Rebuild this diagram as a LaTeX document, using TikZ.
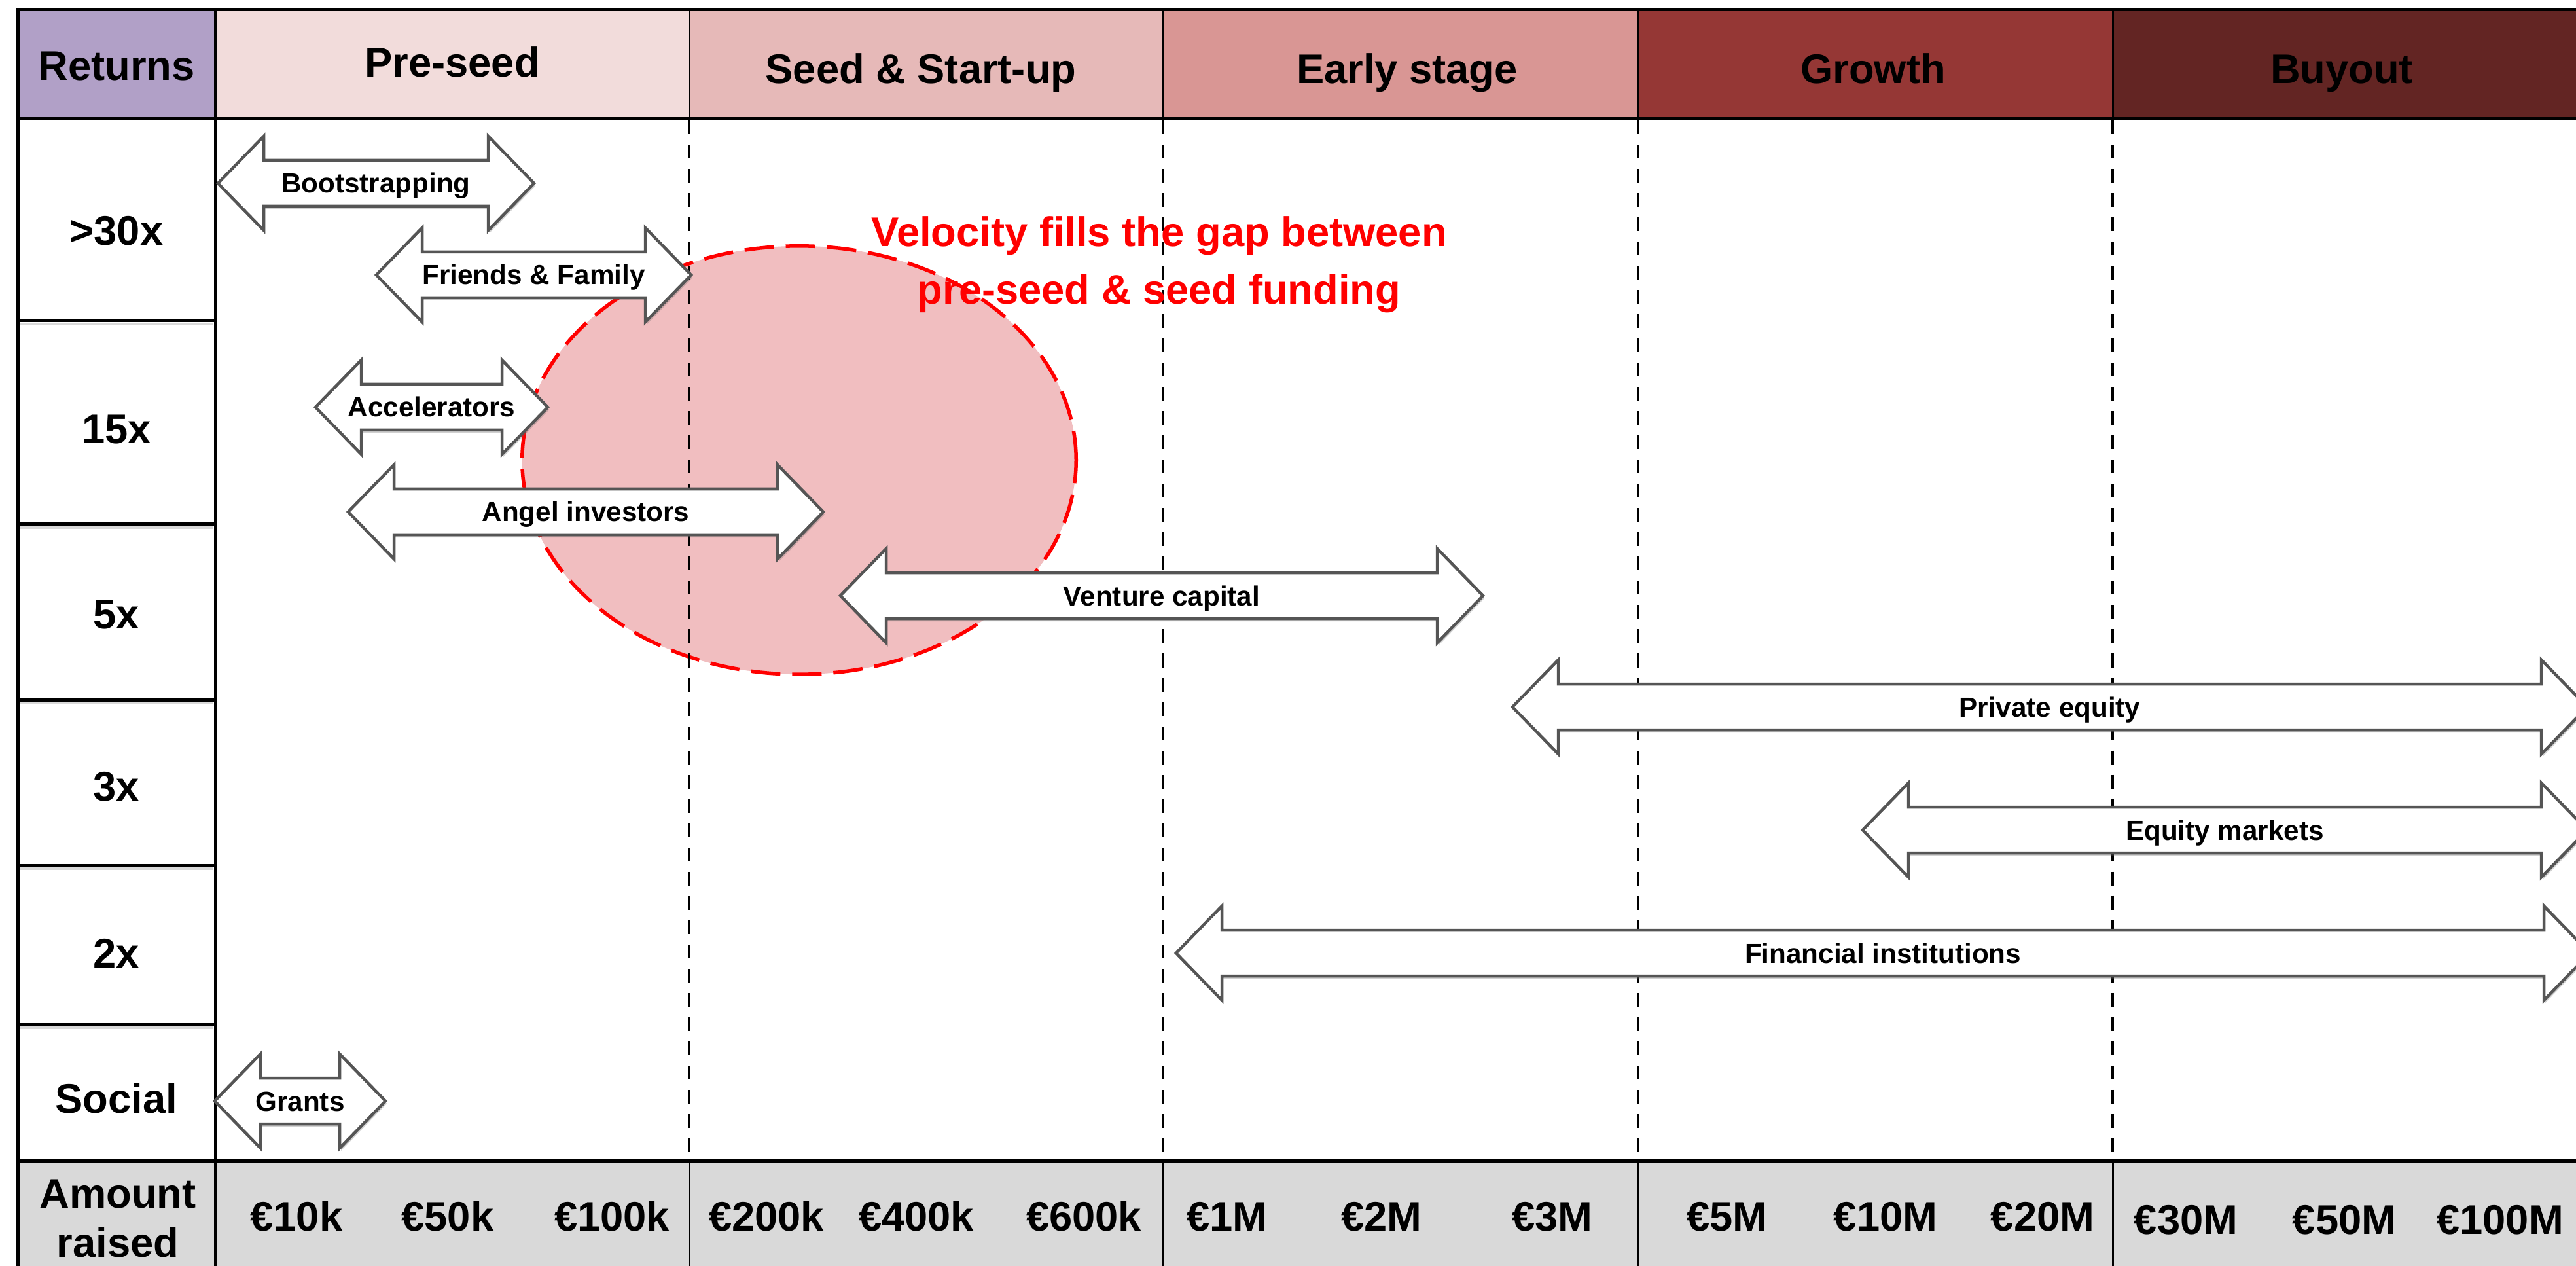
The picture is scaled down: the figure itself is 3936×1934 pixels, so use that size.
\documentclass[tikz,border=0pt]{standalone}
\usepackage{fontspec}
\setmainfont{Liberation Sans}
\usetikzlibrary{shadows,shapes.geometric}
\definecolor{retc}{HTML}{B1A0C7}
\definecolor{prec}{HTML}{F2DCDB}
\definecolor{seedc}{HTML}{E6B9B8}
\definecolor{earlyc}{HTML}{D99694}
\definecolor{growc}{HTML}{953735}
\definecolor{buyc}{HTML}{632523}
\definecolor{amtc}{HTML}{D9D9D9}
\definecolor{gapfill}{HTML}{F1BEC0}
\definecolor{arrline}{HTML}{555555}
\newcommand\bigfont{\fontsize{18}{21.6}\selectfont\bfseries}
\newcommand\smallfont{\fontsize{12}{14.4}\selectfont\bfseries}
\tikzset{
  thickline/.style={line width=0.05cm, black},
  thinline/.style={line width=0.03cm, black},
  divline/.style={line width=0.04cm, black, dash pattern=on 0.21cm off 0.16cm},
  arrowbox/.style={fill=white, draw=arrline, line width=0.045cm, line join=miter,
    drop shadow={shadow xshift=0.02cm, shadow yshift=-0.04cm, opacity=0.3, fill=black!60}},
  arrlabel/.style={anchor=base, inner sep=0pt, font=\smallfont},
  biglabel/.style={anchor=base, inner sep=0pt, font=\bigfont},
}
\newcommand\dblarr[5]{%
  \path[arrowbox] (#2,#4) -- ({#2+70},{#4-72}) -- ({#2+70},{#4-35}) -- ({#3-70},{#4-35})
    -- ({#3-70},{#4-72}) -- (#3,#4) -- ({#3-70},{#4+72}) -- ({#3-70},{#4+35})
    -- ({#2+70},{#4+35}) -- ({#2+70},{#4+72}) -- cycle;
  \node[arrlabel] (#1) at ({(#2+#3)/2},{#4+15}) {#5};}
\begin{document}
\begin{tikzpicture}[x=0.01cm,y=-0.01cm]
\clip (0,0) rectangle (3936,1934);
\fill[white] (0,0) rectangle (3936,1934);
% header cells
\fill[retc] (27,15) rectangle (329,182);
\fill[prec] (329,15) rectangle (1053,182);
\fill[seedc] (1053,15) rectangle (1777,182);
\fill[earlyc] (1777,15) rectangle (2503,182);
\fill[growc] (2503,15) rectangle (3228,182);
\fill[buyc] (3228,15) rectangle (3990,182);
% amount row
\fill[amtc] (27,1773) rectangle (3990,1990);
% row shadows
\foreach \yy in {490,801,1069,1322,1565}{
  \draw[line width=0.04cm, black!15] (30,\yy+5) -- (326,\yy+5);}
% thin dividers
\foreach \xx in {1053,1777,2503,3228}{
  \draw[thinline] (\xx,15) -- (\xx,182);
  \draw[thinline] (\xx,1773) -- (\xx,1990);}
% left column row lines
\foreach \yy in {490,801,1069,1322,1565}{
  \draw[thickline] (27,\yy) -- (329,\yy);}
% gap ellipse
\node[ellipse, minimum width=8.46cm, minimum height=6.54cm, inner sep=0pt,
  fill=gapfill, draw=red, line width=0.055cm, dash pattern=on 0.45cm off 0.18cm] (gap) at (1221,703) {};
% dashed stage dividers
\foreach \xx in {1053,1777,2503,3228}{
  \draw[divline] (\xx,184) -- (\xx,1771);}
% thick frame lines
\draw[thickline] (25,15) -- (3990,15);
\draw[thickline] (25,182) -- (3990,182);
\draw[thickline] (25,1773) -- (3990,1773);
\draw[thickline] (27,13) -- (27,1990);
\draw[thickline] (329,13) -- (329,1990);
% header labels
\node[biglabel] (hret) at (178,123) {Returns};
\node[biglabel] (hpre) at (691,118) {Pre-seed};
\node[biglabel] (hseed) at (1407,128) {Seed \& Start-up};
\node[biglabel] (hearly) at (2150,128) {Early stage};
\node[biglabel] (hgrow) at (2862,128) {Growth};
\node[biglabel] (hbuy) at (3578,128) {Buyout};
% row labels
\node[biglabel] (r30) at (178,375) {>30x};
\node[biglabel] (r15) at (178,678) {15x};
\node[biglabel] (r5) at (178,960) {5x};
\node[biglabel] (r3) at (178,1223) {3x};
\node[biglabel] (r2) at (178,1478) {2x};
\node[biglabel] (rsoc) at (178,1700) {Social};
\node[biglabel] (amt1) at (180,1845) {Amount};
\node[biglabel] (amt2) at (180,1920) {raised};
% amounts
\node[biglabel] (a1) at (453,1880) {€10k};
\node[biglabel] (a2) at (684,1880) {€50k};
\node[biglabel] (a3) at (935,1880) {€100k};
\node[biglabel] (a4) at (1171,1880) {€200k};
\node[biglabel] (a5) at (1400,1880) {€400k};
\node[biglabel] (a6) at (1656,1880) {€600k};
\node[biglabel] (a7) at (1875,1880) {€1M};
\node[biglabel] (a8) at (2111,1880) {€2M};
\node[biglabel] (a9) at (2372,1880) {€3M};
\node[biglabel] (a10) at (2639,1880) {€5M};
\node[biglabel] (a11) at (2881,1880) {€10M};
\node[biglabel] (a12) at (3121,1880) {€20M};
\node[biglabel] (a13) at (3340,1885) {€30M};
\node[biglabel] (a14) at (3582,1885) {€50M};
\node[biglabel] (a15) at (3820,1885) {€100M};
% arrows
\dblarr{boot}{333}{816}{280}{Bootstrapping}
\dblarr{ff}{575}{1056}{420}{Friends \& Family}
\dblarr{acc}{482}{837}{622}{Accelerators}
\dblarr{angel}{532}{1258}{782}{Angel investors}
\dblarr{vc}{1284}{2266}{910}{Venture capital}
\dblarr{pe}{2311}{3953}{1080}{Private equity}
\dblarr{em}{2846}{3953}{1268}{Equity markets}
\dblarr{fi}{1797}{3957}{1456}{Financial institutions}
\dblarr{grants}{328}{589}{1682}{Grants}
% velocity text
\node[biglabel, text=red] (vel1) at (1771,377) {Velocity fills the gap between};
\node[biglabel, text=red] (vel2) at (1771,465) {pre-seed \& seed funding};
\end{tikzpicture}
\end{document}
